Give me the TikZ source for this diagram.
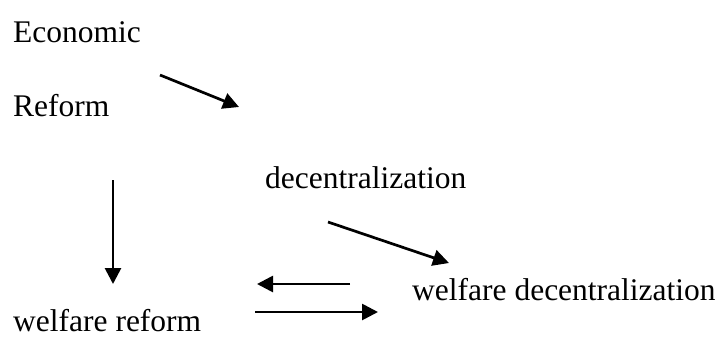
\documentclass[tikz,border=0pt]{standalone}
\usepackage{fontspec}
\setmainfont{Liberation Serif}
\usetikzlibrary{arrows.meta}
\tikzset{
  lbl/.style={anchor=base west,inner sep=0pt,font=\fontsize{31.5}{36}\selectfont},
  arr/.style={line width=2.7pt,-{Triangle[length=16pt,width=16pt]}}
}
\begin{document}
\begin{tikzpicture}[x=1pt,y=-1pt]
        \useasboundingbox (0,0) rectangle (719,338);
        \node[lbl] (Eco) at (13,42)  {Economic};
        \node[lbl] (Ref) at (13,116) {Reform};
        \node[lbl] (Dec) at (265,188) {decentralization};
        \node[lbl] (WD)  at (412,300) {welfare decentralization};
        \node[lbl] (WR)  at (13,331) {welfare reform};
        
        % ends of the arrows
        \coordinate (A1) at (160,75);  \coordinate (B1) at (239,107);
        \coordinate (A2) at (328,222); \coordinate (B2) at (449,263);
        \coordinate (A3) at (113,180); \coordinate (B3) at (113,284);
        \coordinate (A4) at (350,284); \coordinate (B4) at (257,284);
        \coordinate (A5) at (255,312); \coordinate (B5) at (378,312);
        
        \draw[arr] (A1) -- (B1);
        \draw[arr] (A2) -- (B2);
        \draw[arr] (A3) -- (B3);
        \draw[arr] (A4) -- (B4);
        \draw[arr] (A5) -- (B5);
      \end{tikzpicture}
\end{document}
